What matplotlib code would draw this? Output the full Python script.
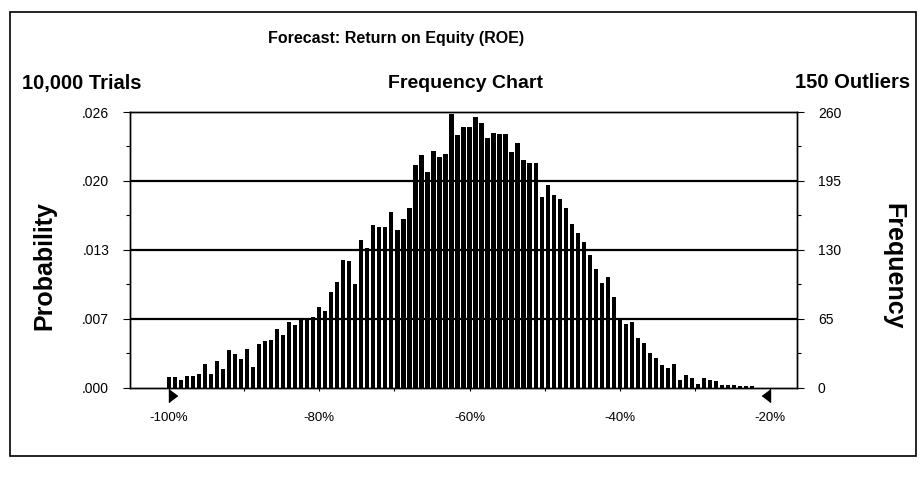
import numpy as np
import matplotlib
matplotlib.use('Agg')
import matplotlib.pyplot as plt
from matplotlib.patches import Rectangle
from matplotlib.ticker import MultipleLocator

plt.rcParams['font.family'] = ['Liberation Sans', 'DejaVu Sans']

# frequency per cell (100 cells of 0.8% from -100% to -20%)
freq = [10, 10, 7, 11, 11, 13, 22, 13, 25, 17,
        35, 32, 27, 36, 19, 41, 44, 45, 55, 50,
        62, 59, 64, 64, 67, 76, 72, 90, 100, 120,
        119, 98, 139, 132, 153, 151, 151, 166, 149, 159,
        169, 210, 219, 203, 223, 218, 220, 258, 238, 246,
        246, 255, 250, 235, 240, 239, 239, 222, 231, 215,
        212, 212, 180, 191, 182, 178, 169, 154, 146, 137,
        125, 112, 99, 104, 85, 64, 60, 62, 47, 42,
        33, 28, 21, 18, 22, 7, 12, 9, 3, 9,
        7, 6, 2, 2, 2, 1, 1, 1, 0, 0]
bin_start = -100.0
bin_width = 0.8
range_min = -100
range_max = -20

x_ticks = [-100, -90, -80, -70, -60, -50, -40, -30, -20]
x_labels = ['-100%', '', '-80%', '', '-60%', '', '-40%', '', '-20%']
freq_ticks = [0, 65, 130, 195, 260]
prob_labels = ['.000', '.007', '.013', '.020', '.026']

title = 'Forecast: Return on Equity (ROE)'
subtitle = 'Frequency Chart'
trials_text = '10,000 Trials'
outliers_text = '150 Outliers'

W, H = 922, 478
fig = plt.figure(figsize=(W / 100, H / 100), dpi=100)


def fx(px):
    return px / W


def fy(py):
    return 1 - py / H


ax = fig.add_axes([fx(130), fy(387.5), fx(797) - fx(130), fy(112) - fy(387.5)])

centers = bin_start + bin_width * np.arange(len(freq))
ax.bar(centers, freq, width=0.56, color='black', zorder=2)
for v in freq_ticks[1:-1]:
    ax.axhline(v, color='black', lw=1.6, zorder=3)

ax.set_xlim(-105.2, -16.4)
ax.set_ylim(0, 260)

ax.set_xticks(x_ticks)
ax.set_xticklabels(x_labels)
ax.tick_params(axis='x', length=2.5, width=0.8, pad=15, labelsize=9.5)

ax.set_yticks(freq_ticks)
ax.set_yticklabels(prob_labels)
ax.yaxis.set_minor_locator(MultipleLocator(32.5))
ax.tick_params(axis='y', which='major', length=5, width=0.8, pad=10, labelsize=10)
ax.tick_params(axis='y', which='minor', length=3, width=0.8)

ax2 = ax.twinx()
ax2.set_ylim(0, 260)
ax2.set_yticks(freq_ticks)
ax2.set_yticklabels([str(v) for v in freq_ticks])
ax2.yaxis.set_minor_locator(MultipleLocator(32.5))
ax2.tick_params(axis='y', which='major', length=5, width=0.8, pad=10, labelsize=10)
ax2.tick_params(axis='y', which='minor', length=3, width=0.8)

for a in (ax, ax2):
    for s in a.spines.values():
        s.set_linewidth(1.0)
        s.set_color('black')

# display range markers
tr = ax.get_xaxis_transform()
ax.plot([range_min], [-0.03], marker=[(0, -0.75), (0, 0.75), (1, 0)], ms=12,
        color='black', transform=tr, clip_on=False, lw=0)
ax.plot([range_max], [-0.03], marker=[(0, -0.75), (0, 0.75), (-1, 0)], ms=12,
        color='black', transform=tr, clip_on=False, lw=0)

fig.text(fx(44), fy(266), 'Probability', rotation=90, ha='center', va='center',
         fontsize=18, weight='bold')
fig.text(fx(893), fy(266), 'Frequency', rotation=270, ha='center', va='center',
         fontsize=18, weight='bold')

fig.text(fx(396), fy(39), title, ha='center', va='center', fontsize=11.5, weight='bold')
fig.text(fx(465), fy(83), subtitle, ha='center', va='center', fontsize=14, weight='bold')
fig.text(fx(22), fy(84), trials_text, ha='left', va='center', fontsize=14.5, weight='bold')
fig.text(fx(910), fy(82), outliers_text, ha='right', va='center', fontsize=14.5, weight='bold')

fig.patches.append(Rectangle((fx(10), fy(456)), fx(916) - fx(10), fy(12) - fy(456),
                             transform=fig.transFigure, fill=False, lw=1.2, color='black'))

fig.savefig('out.png', dpi=100)
